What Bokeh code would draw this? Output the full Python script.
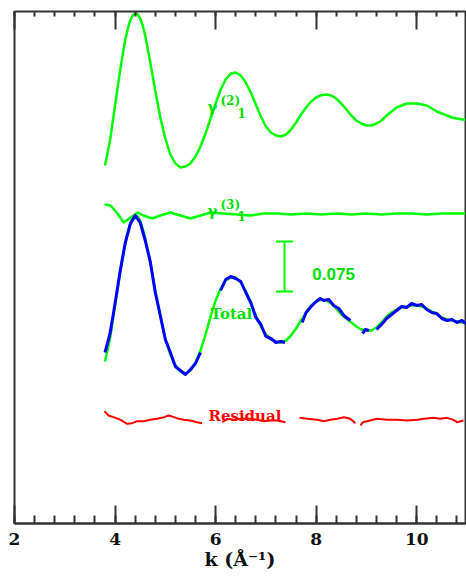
from bokeh.plotting import figure
from bokeh.models import Range1d, LinearAxis, FixedTicker, Label
from bokeh.embed import file_html
from bokeh.resources import INLINE

nan = float("nan")

# ---------------- data ----------------
k_fit = [3.8, 3.9, 4.0, 4.1, 4.2, 4.25, 4.3, 4.35, 4.4, 4.45, 4.5, 4.55, 4.6, 4.7, 4.8, 4.9,
         5.0, 5.1, 5.2, 5.3, 5.4, 5.5, 5.6, 5.7, 5.8, 5.9, 6.0, 6.1, 6.2, 6.3, 6.4, 6.5,
         6.6, 6.7, 6.8, 6.9, 7.0, 7.1, 7.2, 7.3, 7.4, 7.5, 7.6, 7.7, 7.8, 7.9, 8.0, 8.1,
         8.2, 8.3, 8.4, 8.5, 8.6, 8.7, 8.8, 8.9, 9.0, 9.1, 9.2, 9.3, 9.4, 9.5, 9.6, 9.7,
         9.8, 9.9, 10.0, 10.1, 10.2, 10.3, 10.4, 10.5, 10.6, 10.7, 10.8, 10.9, 10.97]

gamma2 = [-0.0825, -0.045, 0.0075, 0.06, 0.105, 0.1215, 0.135, 0.1425, 0.1455, 0.144, 0.138,
          0.1275, 0.1125, 0.072, 0.03,
          -0.0105, -0.042, -0.066, -0.0795, -0.0855, -0.084, -0.0795, -0.069, -0.054, -0.0345,
          -0.012, 0.0105, 0.0315, 0.0465, 0.0555, 0.057, 0.0525, 0.042, 0.027, 0.009, -0.009,
          -0.024, -0.033, -0.0375, -0.039, -0.036, -0.0285, -0.018, -0.006, 0.0045, 0.0135,
          0.0195, 0.023, 0.024, 0.0225, 0.018, 0.0105, 0.0015, -0.0075, -0.015, -0.0195,
          -0.0225, -0.0225, -0.0195, -0.015, -0.0075, -0.0015, 0.0045, 0.0075, 0.0105, 0.0105,
          0.0105, 0.009, 0.0075, 0.003, -0.0015, -0.0045, -0.0075, -0.0105, -0.012, -0.0135,
          -0.0135]

total_fit = [-0.0645, -0.03, 0.0195, 0.069, 0.111, 0.129, 0.1425, 0.1515, 0.1545, 0.153, 0.147,
             0.135, 0.12, 0.084, 0.042,
             0.003, -0.03, -0.054, -0.0705, -0.0795, -0.0825, -0.078, -0.066, -0.048, -0.024,
             0.003, 0.027, 0.045, 0.057, 0.0615, 0.0615, 0.054, 0.0405, 0.0225, 0.0045, -0.012,
             -0.024, -0.0315, -0.0345, -0.036, -0.033, -0.0255, -0.015, -0.003, 0.009, 0.0195,
             0.0255, 0.0285, 0.027, 0.0225, 0.015, 0.006, 0.0, -0.006, -0.012, -0.0165,
             -0.018, -0.018, -0.0135, -0.006, 0.003, 0.009, 0.0135, 0.0165, 0.018, 0.0195,
             0.0195, 0.018, 0.015, 0.0105, 0.006, 0.0015, -0.0015, -0.003, -0.0045, -0.006,
             -0.006]

k_g3 = [3.79, 3.91, 4.05, 4.17, 4.31, 4.45, 4.56, 4.74, 4.90, 5.10, 5.30, 5.50, 5.70, 5.90,
        6.16, 6.43, 6.69, 6.95, 7.23, 7.5, 7.8, 8.1, 8.4, 8.7, 9.0, 9.3, 9.6, 9.9, 10.2,
        10.5, 10.97]
gamma3 = [0.0135, 0.012, 0.0, -0.0135, -0.006, 0.0015, -0.003, -0.0075, -0.003, 0.0015,
          -0.003, -0.0075, -0.003, 0.0015, 0.0, -0.0015, -0.003, 0.0, 0.0, -0.0015, 0.0,
          -0.0015, 0.0, -0.0015, 0.0, -0.0015, 0.0, 0.0, -0.0015, 0.0, 0.0]

k_data = [3.8, 3.9, 4.0, 4.1, 4.2, 4.3, 4.4, 4.5, 4.6, 4.7, 4.8, 4.9, 5.0, 5.1, 5.2, 5.3,
          5.4, 5.5, 5.6, 5.7, nan,
          6.1, 6.2, 6.3, 6.4, 6.5, 6.6, 6.7, 6.8, 6.9, 7.0, 7.1, 7.2, 7.3, 7.38, nan,
          7.72, 7.8, 7.9, 8.0, 8.08, 8.15, 8.25, 8.35, 8.45, 8.55, 8.68, nan,
          8.92, 8.98, 9.05, nan,
          9.2, 9.3, 9.4, 9.5, 9.6, 9.7, 9.8, 9.9, 10.0, 10.1, 10.2, 10.3, 10.4, 10.5, 10.6,
          10.7, 10.8, 10.9, 10.97]
total_data = [-0.051, -0.0225, 0.0225, 0.0705, 0.1125, 0.141, 0.1545, 0.144, 0.117, 0.0855,
              0.039, 0.0045, -0.0315, -0.051, -0.072, -0.078, -0.084, -0.0765, -0.0675, -0.051,
              nan,
              0.042, 0.0585, 0.063, 0.06, 0.0555, 0.039, 0.024, 0.0015, -0.009, -0.027, -0.03,
              -0.036, -0.0345, -0.036, nan,
              -0.006, 0.009, 0.018, 0.0255, 0.03, 0.027, 0.0285, 0.0195, 0.015, 0.0045, -0.003,
              nan,
              -0.0225, -0.0165, -0.018, nan,
              -0.0165, -0.009, 0.0, 0.006, 0.012, 0.018, 0.0165, 0.0225, 0.0195, 0.021, 0.0135,
              0.009, 0.0075, 0.0, -0.003, -0.0015, -0.006, -0.003, -0.0075]

k_res = [3.79, 3.87, 3.97, 4.11, 4.24, 4.34, 4.44, 4.57, 4.70, 4.84, 4.97, 5.07, 5.17, 5.27,
         5.37, 5.50, 5.63, 5.73, nan,
         6.13, 6.23, 6.36, 6.49, 6.69, 6.83, 6.96, 7.09, 7.22, 7.39, nan,
         7.67, 7.82, 8.02, 8.15, 8.28, 8.42, 8.55, 8.68, 8.78, nan,
         8.88, 8.93, 9.01, 9.21, 9.41, 9.61, 9.81, 10.01, 10.14, 10.34, 10.47, 10.60, 10.73,
         10.80, 10.93]
residual = [0.014, 0.0075, 0.005, 0.001, -0.005, -0.004, -0.001, -0.001, 0.001, 0.0025, 0.005,
            0.0075, 0.005, 0.0025, 0.001, 0.0, -0.0025, -0.004, nan,
            -0.0025, 0.0025, 0.001, 0.0025, 0.0025, 0.001, -0.001, 0.0, 0.0, -0.0025, nan,
            0.004, 0.0025, 0.001, -0.001, 0.001, 0.0025, 0.005, 0.0025, -0.004, nan,
            -0.0075, -0.0025, -0.001, 0.0025, 0.001, 0.001, 0.0, 0.001, 0.0025, 0.004, 0.0025,
            0.004, 0.001, -0.0025, 0.0]

offset_gamma2 = 0.465
offset_gamma3 = 0.3105
offset_total = 0.153
offset_residual = 0.0

x_ticks = [2, 4, 6, 8, 10]
scale_bar_value = 0.075

# ---------------- styling ----------------
GREEN = "#00ff00"
TEXT_GREEN = "#00e000"
BLUE = "#0000ff"
RED = "#ff0000"
FRAME = "#333333"
SERIF = "DejaVu Serif"

p = figure(width=466, height=576,
           x_range=Range1d(2, 10.97), y_range=Range1d(-0.1545, 0.6135),
           output_backend="svg", toolbar_location=None, y_axis_location=None,
           min_border_left=14, min_border_right=1, min_border_top=11, min_border_bottom=53)
p.grid.visible = False
p.background_fill_color = "white"
p.border_fill_color = "white"
p.outline_line_color = FRAME
p.outline_line_width = 2
p.outline_line_alpha = 1

minor = [round(x_ticks[0] + 0.4 * i, 2) for i in range(int((10.97 - 2) / 0.4) + 1)]
ticker = FixedTicker(ticks=x_ticks, minor_ticks=minor)

xa = p.xaxis[0]
xa.ticker = ticker
xa.axis_line_color = FRAME
xa.axis_line_width = 2
xa.major_tick_in = 18
xa.major_tick_out = 0
xa.minor_tick_in = 8
xa.minor_tick_out = 0
xa.major_tick_line_color = FRAME
xa.minor_tick_line_color = FRAME
xa.major_tick_line_width = 2
xa.minor_tick_line_width = 2
xa.major_label_text_font = SERIF
xa.major_label_text_font_style = "bold"
xa.major_label_text_font_size = "17px"
xa.major_label_text_color = "#111111"
xa.major_label_standoff = 9
xa.axis_label = "k (Å⁻¹)"
xa.axis_label_text_font = SERIF
xa.axis_label_text_font_style = "bold"
xa.axis_label_text_font_size = "19px"
xa.axis_label_text_color = "#111111"
xa.axis_label_standoff = 0

top = LinearAxis(ticker=ticker, axis_line_color=None,
                 major_tick_in=18, major_tick_out=0, minor_tick_in=5, minor_tick_out=0,
                 major_tick_line_color=FRAME, minor_tick_line_color=FRAME,
                 major_tick_line_width=2, minor_tick_line_width=2,
                 major_label_overrides={t: "" for t in x_ticks},
                 major_label_standoff=0, major_label_text_font_size="1px")
p.add_layout(top, "above")

# ---------------- curves ----------------
p.line(k_fit, [v + offset_gamma2 for v in gamma2], line_color=GREEN, line_width=2.5,
       line_join="round")
p.line(k_g3, [v + offset_gamma3 for v in gamma3], line_color=GREEN, line_width=2.5,
       line_join="round")
p.line(k_fit, [v + offset_total for v in total_fit], line_color=GREEN, line_width=2.5,
       line_join="round")
p.line(k_data, [v + offset_total for v in total_data], line_color=BLUE, line_width=3,
       line_join="round")
p.line(k_res, [v + offset_residual for v in residual], line_color=RED, line_width=2,
       line_join="round")

# scale bar
bar_x = 7.37
bar_top = 0.2685
cap = 0.17
p.segment(x0=[bar_x, bar_x - cap, bar_x - cap],
          y0=[bar_top, bar_top, bar_top - scale_bar_value],
          x1=[bar_x, bar_x + cap, bar_x + cap],
          y1=[bar_top - scale_bar_value, bar_top, bar_top - scale_bar_value],
          line_color=GREEN, line_width=2)

def lab(x, y, text, size, color=TEXT_GREEN, font=SERIF):
    p.add_layout(Label(x=x, y=y, text=text, text_font=font, text_font_style="bold",
                       text_font_size=size, text_color=color, text_baseline="alphabetic",
                       text_align="left"))

lab(5.84, 0.471, "γ", "15px")
lab(6.095, 0.48, "(2)", "12px")
lab(6.433, 0.462, "1", "12px")
lab(5.84, 0.315, "γ", "15px")
lab(6.095, 0.324, "(3)", "12px")
lab(6.433, 0.3075, "1", "12px")
lab(5.897, 0.1605, "Total", "15px")
lab(5.857, 0.0075, "Residual", "15px", color=RED)
lab(7.924, 0.2205, f"{scale_bar_value}", "17px", font="Liberation Sans")

open("out.html", "w").write(file_html(p, INLINE))
